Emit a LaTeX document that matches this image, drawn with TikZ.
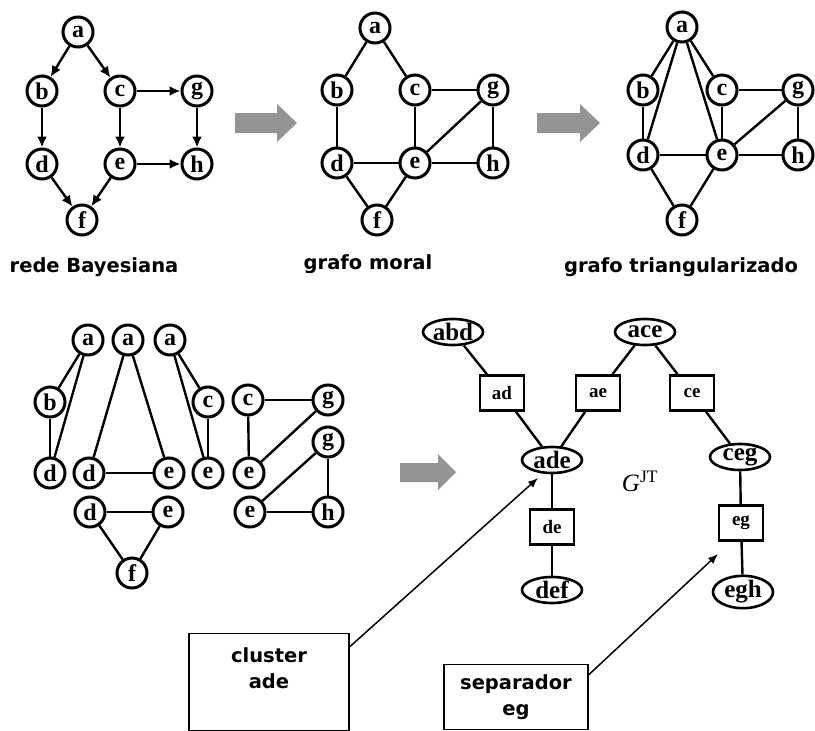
\documentclass[tikz,border=0pt]{standalone}
\usepackage{fontspec}
\setmainfont{Liberation Serif}
\newfontfamily\labfont{DejaVu Sans}
\usetikzlibrary{shapes.geometric,arrows.meta}
\definecolor{arrowgray}{gray}{0.58}
\tikzset{
  cn/.style={circle, draw, line width=3pt, minimum size=30pt, inner sep=0pt,
    font=\fontsize{24}{24}\selectfont\bfseries},
  el/.style={ellipse, draw, line width=2.6pt, minimum width=60pt, minimum height=26pt, inner sep=0pt,
    font=\fontsize{25}{25}\selectfont\bfseries},
  bx/.style={rectangle, draw, line width=2.6pt, minimum width=44pt, minimum height=35pt, inner sep=0pt,
    font=\fontsize{19}{19}\selectfont\bfseries},
  ed/.style={line width=2.4pt},
  ar/.style={ed, -{Latex[length=11pt,width=10pt]}},
  lab/.style={font=\labfont\bfseries\fontsize{19.5}{19.5}\selectfont},
  callout/.style={draw, line width=1.5pt, inner sep=0pt},
  callarrow/.style={line width=1.5pt, -{Latex[length=10pt,width=8pt]}},
  bigarrow/.style={fill=arrowgray}
}
\begin{document}
\begin{tikzpicture}[x=1pt,y=-1pt]
\useasboundingbox (0,0) rectangle (815,731);
\fill[white] (0,0) rectangle (815,731);

% ---------- rede Bayesiana ----------
\node[cn] (la) at (78,32) {a};
\node[cn] (lb) at (42,91) {b};
\node[cn] (lc) at (120,91) {c};
\node[cn] (lg) at (197,91) {g};
\node[cn] (ld) at (42,164) {d};
\node[cn] (le) at (120,164) {e};
\node[cn] (lh) at (197,164) {h};
\node[cn] (lf) at (82,220) {f};
\draw[ar] (la) -- (lb);
\draw[ar] (la) -- (lc);
\draw[ar] (lb) -- (ld);
\draw[ar] (lc) -- (le);
\draw[ar] (lc) -- (lg);
\draw[ar] (lg) -- (lh);
\draw[ar] (le) -- (lh);
\draw[ar] (ld) -- (lf);
\draw[ar] (le) -- (lf);
\node[lab] (t1) at (94,267) {rede Bayesiana};

% gray arrow 1
\fill[bigarrow] (235,113) -- (277,113) -- (277,104) -- (297,123) -- (277,142) -- (277,133) -- (235,133) -- cycle;

% ---------- grafo moral ----------
\node[cn] (ma) at (375,28) {a};
\node[cn] (mb) at (337,90) {b};
\node[cn] (mc) at (415,90) {c};
\node[cn] (mg) at (493,90) {g};
\node[cn] (md) at (337,163) {d};
\node[cn] (me) at (415,163) {e};
\node[cn] (mh) at (493,163) {h};
\node[cn] (mf) at (377,220) {f};
\draw[ed] (ma) -- (mb);
\draw[ed] (ma) -- (mc);
\draw[ed] (mb) -- (md);
\draw[ed] (mc) -- (mg);
\draw[ed] (mc) -- (me);
\draw[ed] (mg) -- (me);
\draw[ed] (mg) -- (mh);
\draw[ed] (md) -- (me);
\draw[ed] (me) -- (mh);
\draw[ed] (md) -- (mf);
\draw[ed] (me) -- (mf);
\node[lab] (t2) at (368,264) {grafo moral};

% gray arrow 2
\fill[bigarrow] (537,113) -- (580,113) -- (580,104) -- (600,123) -- (580,142) -- (580,133) -- (537,133) -- cycle;

% ---------- grafo triangularizado ----------
\node[cn] (ra) at (682,27) {a};
\node[cn] (rb) at (643,90) {b};
\node[cn] (rc) at (722,90) {c};
\node[cn] (rg) at (798,90) {g};
\node[cn] (rd) at (643,155) {d};
\node[cn] (re) at (722,155) {e};
\node[cn] (rh) at (798,155) {h};
\node[cn] (rf) at (682,220) {f};
\draw[ed] (ra) -- (rb);
\draw[ed] (ra) -- (rc);
\draw[ed] (ra) -- (rd);
\draw[ed] (ra) -- (re);
\draw[ed] (rb) -- (rd);
\draw[ed] (rc) -- (rg);
\draw[ed] (rc) -- (re);
\draw[ed] (re) -- (rg);
\draw[ed] (rg) -- (rh);
\draw[ed] (rd) -- (re);
\draw[ed] (re) -- (rh);
\draw[ed] (rd) -- (rf);
\draw[ed] (re) -- (rf);
\node[lab] (t3) at (681,267) {grafo triangularizado};

% ---------- cliques ----------
\node[cn] (ka1) at (88,340) {a};
\node[cn] (ka2) at (128,340) {a};
\node[cn] (ka3) at (170,340) {a};
\node[cn] (kb) at (50,402) {b};
\node[cn] (kc1) at (208,402) {c};
\node[cn] (kc2) at (248,400) {c};
\node[cn] (kg1) at (328,400) {g};
\node[cn] (kg2) at (328,442) {g};
\node[cn] (kd1) at (50,473) {d};
\node[cn] (kd2) at (89,473) {d};
\node[cn] (ke1) at (169,473) {e};
\node[cn] (ke2) at (208,473) {e};
\node[cn] (ke3) at (249,473) {e};
\node[cn] (kd3) at (90,512) {d};
\node[cn] (ke4) at (168,512) {e};
\node[cn] (ke5) at (250,512) {e};
\node[cn] (kh) at (328,512) {h};
\node[cn] (kf) at (132,573) {f};
\draw[ed] (ka1) -- (kb);
\draw[ed] (ka1) -- (kd1);
\draw[ed] (kb) -- (kd1);
\draw[ed] (ka2) -- (kd2);
\draw[ed] (ka2) -- (ke1);
\draw[ed] (kd2) -- (ke1);
\draw[ed] (ka3) -- (kc1);
\draw[ed] (ka3) -- (ke2);
\draw[ed] (kc1) -- (ke2);
\draw[ed] (kc2) -- (kg1);
\draw[ed] (kc2) -- (ke3);
\draw[ed] (ke3) -- (kg1);
\draw[ed] (kg2) -- (ke5);
\draw[ed] (kg2) -- (kh);
\draw[ed] (ke5) -- (kh);
\draw[ed] (kd3) -- (ke4);
\draw[ed] (kd3) -- (kf);
\draw[ed] (ke4) -- (kf);

% gray arrow 3
\fill[bigarrow] (400,463) -- (438,463) -- (438,454) -- (456,472) -- (438,490) -- (438,482) -- (400,482) -- cycle;

% ---------- junction tree ----------
\node[el] (abd) at (453,332) {abd};
\node[el] (ace) at (645,332) {ace};
\node[bx] (ad) at (502,393) {ad};
\node[bx] (ae) at (598,393) {ae};
\node[bx] (ce) at (692,393) {ce};
\node[el] (ade) at (552,460) {ade};
\node[el] (ceg) at (740,457) {ceg};
\node[bx] (de) at (552,527) {de};
\node[bx] (eg) at (741,523) {eg};
\node[el] (def) at (552,590) {def};
\node[el] (egh) at (743,592) {egh};
\draw[ed] (abd) -- (ad);
\draw[ed] (ad) -- (ade);
\draw[ed] (ace) -- (ae);
\draw[ed] (ae) -- (ade);
\draw[ed] (ace) -- (ce);
\draw[ed] (ce) -- (ceg);
\draw[ed] (ade) -- (de);
\draw[ed] (de) -- (def);
\draw[ed] (ceg) -- (eg);
\draw[ed] (eg) -- (egh);
\node (gjt) at (640,481) {\fontsize{25}{25}\selectfont{\itshape G}\textsuperscript{JT}};

% ---------- callouts ----------
\node[callout, minimum width=160pt, minimum height=97pt] (clus) at (269,682) {};
\node[lab, align=center] (clustxt) at (269,668) {cluster\\[6pt]ade};
\coordinate (tip1) at (538,478);
\draw[callarrow] ([yshift=-14pt]clus.north east) -- (tip1);

\node[callout, minimum width=144pt, minimum height=65pt, lab, align=center] (sep) at (516,697) {separador\\[6pt]eg};
\coordinate (tip2) at (718,554);
\draw[callarrow] ([yshift=-11pt]sep.north east) -- (tip2);
\end{tikzpicture}
\end{document}
